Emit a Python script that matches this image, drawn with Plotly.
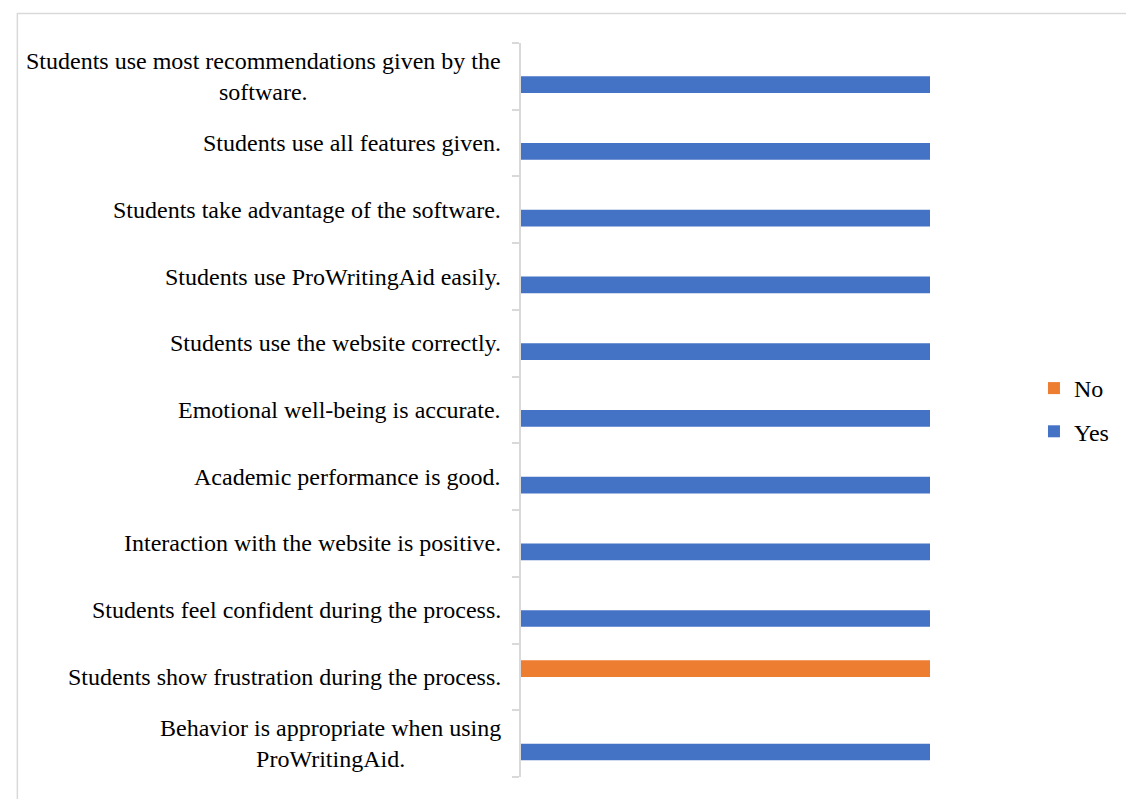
import plotly.graph_objects as go

categories = [
    "Behavior is appropriate when using<br>ProWritingAid.",
    "Students show frustration during the process.",
    "Students feel confident during the process.",
    "Interaction with the website is positive.",
    "Academic performance is good.",
    "Emotional well-being is accurate.",
    "Students use the website correctly.",
    "Students use ProWritingAid easily.",
    "Students take advantage of the software.",
    "Students use all features given.",
    "Students use most recommendations given by the<br>software.",
]
yes_values = [1, None, 1, 1, 1, 1, 1, 1, 1, 1, 1]
no_values = [None, 1, None, None, None, None, None, None, None, None, None]

W, H = 1126, 799
ML, MR, MT, MB = 521, 188, 43, 22
FONT = "Liberation Serif, Times New Roman, serif"
FS = 24

fig = go.Figure()
fig.add_trace(go.Bar(y=categories, x=yes_values, orientation="h", name="Yes",
                     marker=dict(color="#4472C4", line=dict(width=0)),
                     legendgroup="yes", legendrank=2))
fig.add_trace(go.Bar(y=categories, x=no_values, orientation="h", name="No",
                     marker=dict(color="#ED7D31", line=dict(width=0)),
                     legendgroup="no", legendrank=1))

for c in categories:
    fig.add_annotation(x=0, xref="paper", y=c, yref="y", xanchor="right", yanchor="middle",
                       xshift=-18, text=c, showarrow=False, align="center",
                       font=dict(family=FONT, size=FS, color="#000000"))

pw = W - ML - MR
ph = H - MT - MB
def px_x(p):
    return (p - ML) / pw
def px_y(p):
    return (H - MB - p) / ph

fig.add_shape(type="rect", xref="paper", yref="paper",
              x0=px_x(7.5), x1=px_x(1200), y0=px_y(900), y1=px_y(13.5),
              line=dict(color="#d9d9d9", width=1.5), fillcolor="rgba(0,0,0,0)", layer="below")

fig.update_layout(
    width=W, height=H,
    margin=dict(l=ML, r=MR, t=MT, b=MB),
    paper_bgcolor="white", plot_bgcolor="white",
    barmode="group", bargap=0.5, bargroupgap=0,
    font=dict(family=FONT, size=FS, color="#000000"),
    showlegend=True,
    legend=dict(x=px_x(1044), y=px_y(410), xanchor="left", yanchor="middle",
                traceorder="grouped", tracegroupgap=9,
                font=dict(family=FONT, size=FS, color="#000000"),
                bgcolor="rgba(0,0,0,0)"),
    xaxis=dict(visible=False, range=[0, 1], fixedrange=True),
    yaxis=dict(type="category", categoryorder="array", categoryarray=categories,
               showticklabels=False, showgrid=False, zeroline=False,
               showline=True, linecolor="#d9d9d9", linewidth=1.5,
               ticks="outside", tickson="boundaries", ticklen=7, tickcolor="#d9d9d9",
               tickwidth=1.5, range=[-0.5, len(categories) - 0.5], fixedrange=True),
)

fig.write_html("out.html", config={"displayModeBar": False},
               post_script="document.body.style.margin='0px';document.body.style.padding='0px';")
